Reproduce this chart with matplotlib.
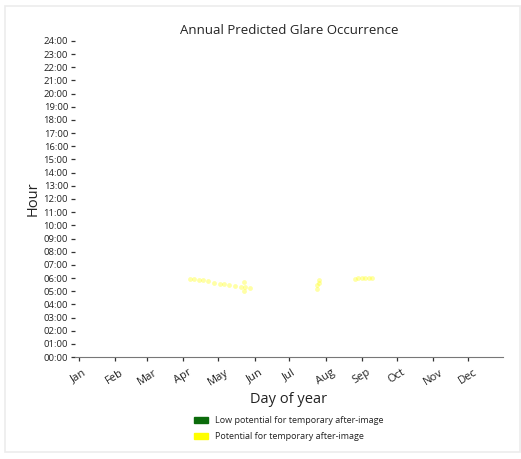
import matplotlib

matplotlib.use("Agg")
import matplotlib.pyplot as plt
from matplotlib.patches import Patch, Rectangle

plt.rcParams["font.family"] = ["Open Sans", "DejaVu Sans"]

# Glare occurrences: day of year and time of day (decimal hours)
spring_days = [97, 100, 104, 108, 112, 117, 122, 126, 130, 135, 140, 144, 148, 143, 143]
spring_hours = [5.95, 5.92, 5.88, 5.82, 5.75, 5.65, 5.58, 5.55, 5.5, 5.42, 5.35, 5.3, 5.25, 5.05, 5.7]
summer_days = [206, 206, 207, 207, 238, 241, 244, 247, 250, 253]
summer_hours = [5.2, 5.45, 5.65, 5.85, 5.95, 6.0, 6.02, 6.02, 6.0, 5.98]

month_starts = [1, 32, 60, 91, 121, 152, 182, 213, 244, 274, 305, 335]
month_labels = ["Jan", "Feb", "Mar", "Apr", "May", "Jun",
                "Jul", "Aug", "Sep", "Oct", "Nov", "Dec"]
hour_ticks = list(range(0, 25))
hour_labels = [f"{h:02d}:00" for h in hour_ticks]

fig = plt.figure(figsize=(5.21, 4.59), dpi=100)
ax = fig.add_axes([0.144, 0.222, 0.821, 0.689])

# thin card border around the figure
fig.patches.append(Rectangle((5 / 521, 7 / 459), 515 / 521, 446 / 459,
                             transform=fig.transFigure, fill=False,
                             edgecolor="#ececec", linewidth=1.2))

ax.scatter(spring_days, spring_hours, s=12, color="#ffff00", alpha=0.35,
           linewidths=0)
ax.scatter(summer_days, summer_hours, s=12, color="#ffff00", alpha=0.35,
           linewidths=0)

ax.set_xlim(-2, 365)
ax.set_ylim(0, 24)
ax.set_xticks(month_starts)
ax.set_xticklabels(month_labels, rotation=32, fontsize=8, color="#222222")
ax.set_yticks(hour_ticks)
ax.set_yticklabels(hour_labels, fontsize=6.8, color="#222222")
ax.tick_params(axis="both", length=3, width=0.9, color="#333333", pad=2)
ax.tick_params(axis="x", pad=4)

for side in ["top", "right", "left"]:
    ax.spines[side].set_visible(False)
ax.spines["bottom"].set_color("#777777")
ax.spines["bottom"].set_linewidth(0.8)

ax.set_title("Annual Predicted Glare Occurrence", fontsize=9.5, color="#222222", pad=5)
ax.set_xlabel("Day of year", fontsize=10.5, color="#222222", labelpad=3)
ax.set_ylabel("Hour", fontsize=10.5, color="#222222", labelpad=2)

handles = [
    Patch(color="#0b6b0b", label="Low potential for temporary after-image"),
    Patch(color="#ffff00", label="Potential for temporary after-image"),
]
ax.legend(handles=handles, loc="upper center", bbox_to_anchor=(0.5, -0.16),
          frameon=False, fontsize=6.5, handlelength=1.6, handleheight=0.6,
          labelspacing=0.8, labelcolor="#222222")

fig.savefig("out.png", dpi=100, facecolor="white")
